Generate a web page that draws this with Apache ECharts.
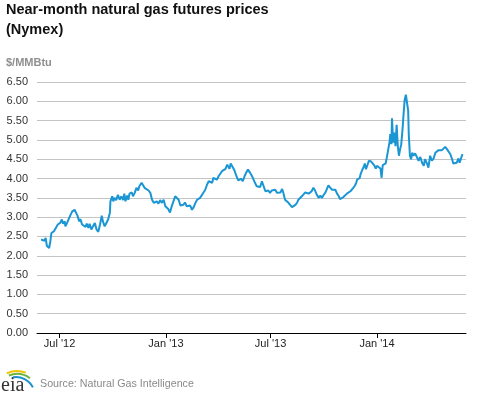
<!DOCTYPE html>
<html>
<head>
<meta charset="utf-8">
<script src="https://cdn.jsdelivr.net/npm/echarts@6/dist/echarts.min.js"></script>
<style>
html,body{margin:0;padding:0;background:#fff;}
#chart{width:477px;height:393px;}
</style>
</head>
<body>
<div id="chart"></div>
<script>
const dates = [
'2012-05-30','2012-06-02','2012-06-05','2012-06-07','2012-06-09','2012-06-13','2012-06-15','2012-06-17','2012-06-18','2012-06-21',
'2012-06-24','2012-06-28','2012-07-02','2012-07-05','2012-07-07','2012-07-10','2012-07-11','2012-07-14','2012-07-17','2012-07-20',
'2012-07-23','2012-07-27','2012-07-30','2012-08-01','2012-08-04','2012-08-06','2012-08-09','2012-08-12','2012-08-15','2012-08-17',
'2012-08-20','2012-08-22','2012-08-25','2012-08-28','2012-08-31','2012-09-03','2012-09-06','2012-09-09','2012-09-12','2012-09-14',
'2012-09-17','2012-09-20','2012-09-23','2012-09-26','2012-09-27','2012-09-30','2012-10-02','2012-10-04','2012-10-07','2012-10-10',
'2012-10-13','2012-10-16','2012-10-19','2012-10-21','2012-10-23','2012-10-26','2012-10-28','2012-10-30','2012-11-03','2012-11-05',
'2012-11-08','2012-11-11','2012-11-14','2012-11-16','2012-11-20','2012-11-22','2012-11-25','2012-11-28',
'2012-12-02','2012-12-05','2012-12-08','2012-12-11','2012-12-13','2012-12-16','2012-12-19','2012-12-22','2012-12-25','2012-12-28',
'2012-12-31','2013-01-03','2013-01-05','2013-01-08','2013-01-11','2013-01-14','2013-01-17','2013-01-20','2013-01-23','2013-01-26',
'2013-01-29','2013-01-31','2013-02-03','2013-02-06','2013-02-09','2013-02-12','2013-02-15','2013-02-18','2013-02-21','2013-02-24',
'2013-02-26','2013-03-01','2013-03-04','2013-03-07','2013-03-10','2013-03-13','2013-03-16','2013-03-19','2013-03-22','2013-03-24',
'2013-03-27','2013-03-30','2013-04-02','2013-04-05','2013-04-08','2013-04-11','2013-04-14','2013-04-17','2013-04-19','2013-04-21',
'2013-04-23','2013-04-26','2013-04-29','2013-05-03','2013-05-06','2013-05-08','2013-05-11','2013-05-14','2013-05-17','2013-05-20',
'2013-05-23','2013-05-26',
'2013-05-30','2013-06-02','2013-06-04','2013-06-07','2013-06-10','2013-06-13','2013-06-16','2013-06-19','2013-06-22','2013-06-25',
'2013-06-27','2013-06-30','2013-07-03','2013-07-06','2013-07-09','2013-07-12','2013-07-15','2013-07-18','2013-07-21','2013-07-23',
'2013-07-26','2013-07-29','2013-08-01','2013-08-04','2013-08-07','2013-08-10','2013-08-13','2013-08-16','2013-08-18','2013-08-21',
'2013-08-24','2013-08-27','2013-08-30','2013-09-02','2013-09-05','2013-09-08','2013-09-10','2013-09-13','2013-09-16','2013-09-19',
'2013-09-22','2013-09-25','2013-09-28','2013-10-01','2013-10-04','2013-10-06','2013-10-09','2013-10-12','2013-10-15','2013-10-18',
'2013-10-21','2013-10-24','2013-10-27','2013-10-29','2013-11-01','2013-11-04','2013-11-07','2013-11-10','2013-11-13','2013-11-16',
'2013-11-19','2013-11-21','2013-11-24',
'2013-11-26','2013-11-28','2013-12-02','2013-12-04','2013-12-07','2013-12-09','2013-12-11','2013-12-13','2013-12-16','2013-12-18',
'2013-12-22','2013-12-25','2013-12-27','2013-12-30','2014-01-01','2014-01-04','2014-01-07','2014-01-09','2014-01-11','2014-01-14',
'2014-01-16','2014-01-18','2014-01-20','2014-01-23','2014-01-24','2014-01-26','2014-01-27','2014-01-29','2014-01-31','2014-02-02',
'2014-02-04','2014-02-06','2014-02-08','2014-02-10','2014-02-12','2014-02-14','2014-02-16','2014-02-18','2014-02-20','2014-02-22',
'2014-02-24','2014-02-25','2014-02-27','2014-03-01','2014-03-03','2014-03-05','2014-03-08','2014-03-11','2014-03-14','2014-03-17',
'2014-03-20','2014-03-23','2014-03-25','2014-03-28','2014-03-31','2014-04-03','2014-04-06','2014-04-09','2014-04-12','2014-04-15',
'2014-04-17','2014-04-20','2014-04-23','2014-04-26','2014-04-29','2014-05-02','2014-05-05','2014-05-08','2014-05-11','2014-05-13',
'2014-05-16','2014-05-19','2014-05-22','2014-05-24','2014-05-27','2014-05-29'
];
const prices = [
2.42,2.43,2.39,2.46,2.26,2.20,2.37,2.59,2.55,2.63,
2.68,2.81,2.85,2.94,2.83,2.89,2.76,2.85,2.81,3.06,
3.15,3.19,3.21,3.04,2.89,2.95,2.81,2.85,2.75,2.83,
2.72,2.83,2.68,2.69,2.85,2.68,2.62,2.81,3.04,2.89,
2.76,2.85,2.94,3.11,3.41,3.54,3.41,3.50,3.44,3.58,
3.45,3.54,3.44,3.61,3.41,3.56,3.45,3.61,3.64,3.54,
3.63,3.76,3.69,3.80,3.89,3.90,3.76,3.71,
3.69,3.63,3.45,3.37,3.32,3.41,3.35,3.44,3.37,3.45,
3.28,3.26,3.21,3.12,3.28,3.41,3.54,3.58,3.45,3.30,
3.26,3.32,3.38,3.28,3.24,3.30,3.19,3.26,3.37,3.45,
3.47,3.50,3.54,3.64,3.71,3.84,3.93,3.97,3.89,4.02,
4.07,3.97,4.06,4.10,4.19,4.15,4.25,4.36,4.40,4.25,
4.39,4.36,4.23,4.06,3.95,3.93,3.99,3.93,4.06,4.16,
4.23,4.16,
4.06,4.02,3.89,3.80,3.76,3.78,3.93,3.80,3.67,3.63,
3.69,3.63,3.69,3.64,3.71,3.63,3.67,3.64,3.73,3.63,
3.45,3.41,3.37,3.32,3.26,3.28,3.32,3.38,3.45,3.50,
3.54,3.58,3.64,3.67,3.61,3.56,3.67,3.76,3.69,3.58,
3.50,3.56,3.50,3.58,3.64,3.69,3.82,3.78,3.71,3.67,
3.71,3.61,3.54,3.47,3.45,3.52,3.56,3.61,3.58,3.67,
3.63,3.76,3.82,
3.89,3.98,4.01,4.13,4.24,4.30,4.39,4.24,4.37,4.46,
4.44,4.44,4.35,4.26,4.33,4.28,4.26,4.02,4.35,4.33,
4.39,4.54,4.71,4.97,5.15,4.89,5.56,4.93,5.19,4.84,
5.39,4.84,4.59,4.76,4.89,5.23,5.66,6.05,6.17,6.14,
5.75,5.15,4.59,4.50,4.67,4.59,4.65,4.63,4.46,4.56,
4.41,4.33,4.50,4.41,4.28,4.59,4.46,4.52,4.67,4.63,
4.73,4.71,4.73,4.70,4.82,4.76,4.78,4.63,4.50,4.39,
4.44,4.41,4.52,4.41,4.55,4.63
];
const tickDates = ['2012-07-01','2013-01-01','2013-07-01','2014-01-01'];
const monthNames = ['Jan','Feb','Mar','Apr','May','Jun','Jul','Aug','Sep','Oct','Nov','Dec'];
const yTicks = [0,0.5,1,1.5,2,2.5,3,3.5,4,4.5,5,5.5,6,6.5];
const titleText = 'Near-month natural gas futures prices\n(Nymex)';
const unitText = '$/MMBtu';
const sourceText = 'Source: Natural Gas Intelligence';

function toUTC(s){ const p = s.split('-').map(Number); return Date.UTC(p[0], p[1]-1, p[2]); }
const tickValues = tickDates.map(toUTC);
const seriesData = dates.map((d,i)=>[toUTC(d), prices[i]]);

const chart = echarts.init(document.getElementById('chart'), null, {renderer:'canvas'});
chart.setOption({
  animation:false,
  backgroundColor:'#fff',
  title:{
    text:titleText, left:6, top:0, padding:0,
    textStyle:{fontFamily:'Liberation Sans, Arial, sans-serif', fontSize:14.5, fontWeight:'bold', color:'#111', lineHeight:20}
  },
  grid:{left:37, right:11, top:82, bottom:60, containLabel:false},
  xAxis:{
    type:'value',
    min:toUTC('2012-05-23'),
    max:toUTC('2014-06-04'),
    axisLine:{show:true, onZero:false, lineStyle:{color:'#000', width:1}},
    axisTick:{show:true, customValues:tickValues, length:5, lineStyle:{color:'#000'}},
    axisLabel:{
      customValues:tickValues, margin:5, showMinLabel:true, showMaxLabel:true,
      fontFamily:'Liberation Sans, Arial, sans-serif', fontSize:11, color:'#222',
      formatter:function(v){ const d=new Date(v); return monthNames[d.getUTCMonth()]+" '"+String(d.getUTCFullYear()).slice(2); }
    },
    splitLine:{show:false}
  },
  yAxis:{
    type:'value', min:yTicks[0], max:yTicks[yTicks.length-1], interval:0.5,
    axisLine:{show:false}, axisTick:{show:false},
    axisLabel:{margin:9, fontFamily:'Liberation Sans, Arial, sans-serif', fontSize:11, color:'#333',
      formatter:function(v){return v.toFixed(2);}},
    splitLine:{lineStyle:{color:'#c4c4c4', width:1}}
  },
  series:[{
    type:'line', data:seriesData, showSymbol:false, symbol:'none',
    lineStyle:{color:'#1a96d4', width:2}, z:3
  }],
  graphic:[
    {type:'text', left:6, top:57, style:{text:unitText, font:'bold 11px Liberation Sans, Arial, sans-serif', fill:'#8f8f8f'}},
    {type:'text', left:40, top:379, style:{text:sourceText, font:'10.7px Liberation Sans, Arial, sans-serif', fill:'#8a8a8a'}},
    {type:'text', left:1, top:376, style:{text:'eia', font:'20px Liberation Serif, Times New Roman, serif', fill:'#333'}},
    {type:'arc', shape:{cx:17, cy:395, r:24, startAngle:Math.PI*1.36, endAngle:Math.PI*1.62}, style:{stroke:'#f2c400', lineWidth:2, fill:null}},
    {type:'arc', shape:{cx:17, cy:396, r:22, startAngle:Math.PI*1.38, endAngle:Math.PI*1.70}, style:{stroke:'#6cb33f', lineWidth:2, fill:null}},
    {type:'arc', shape:{cx:16, cy:396, r:19, startAngle:Math.PI*1.45, endAngle:Math.PI*1.85}, style:{stroke:'#1b8fd0', lineWidth:2, fill:null}}
  ]
});
</script>
</body>
</html>
